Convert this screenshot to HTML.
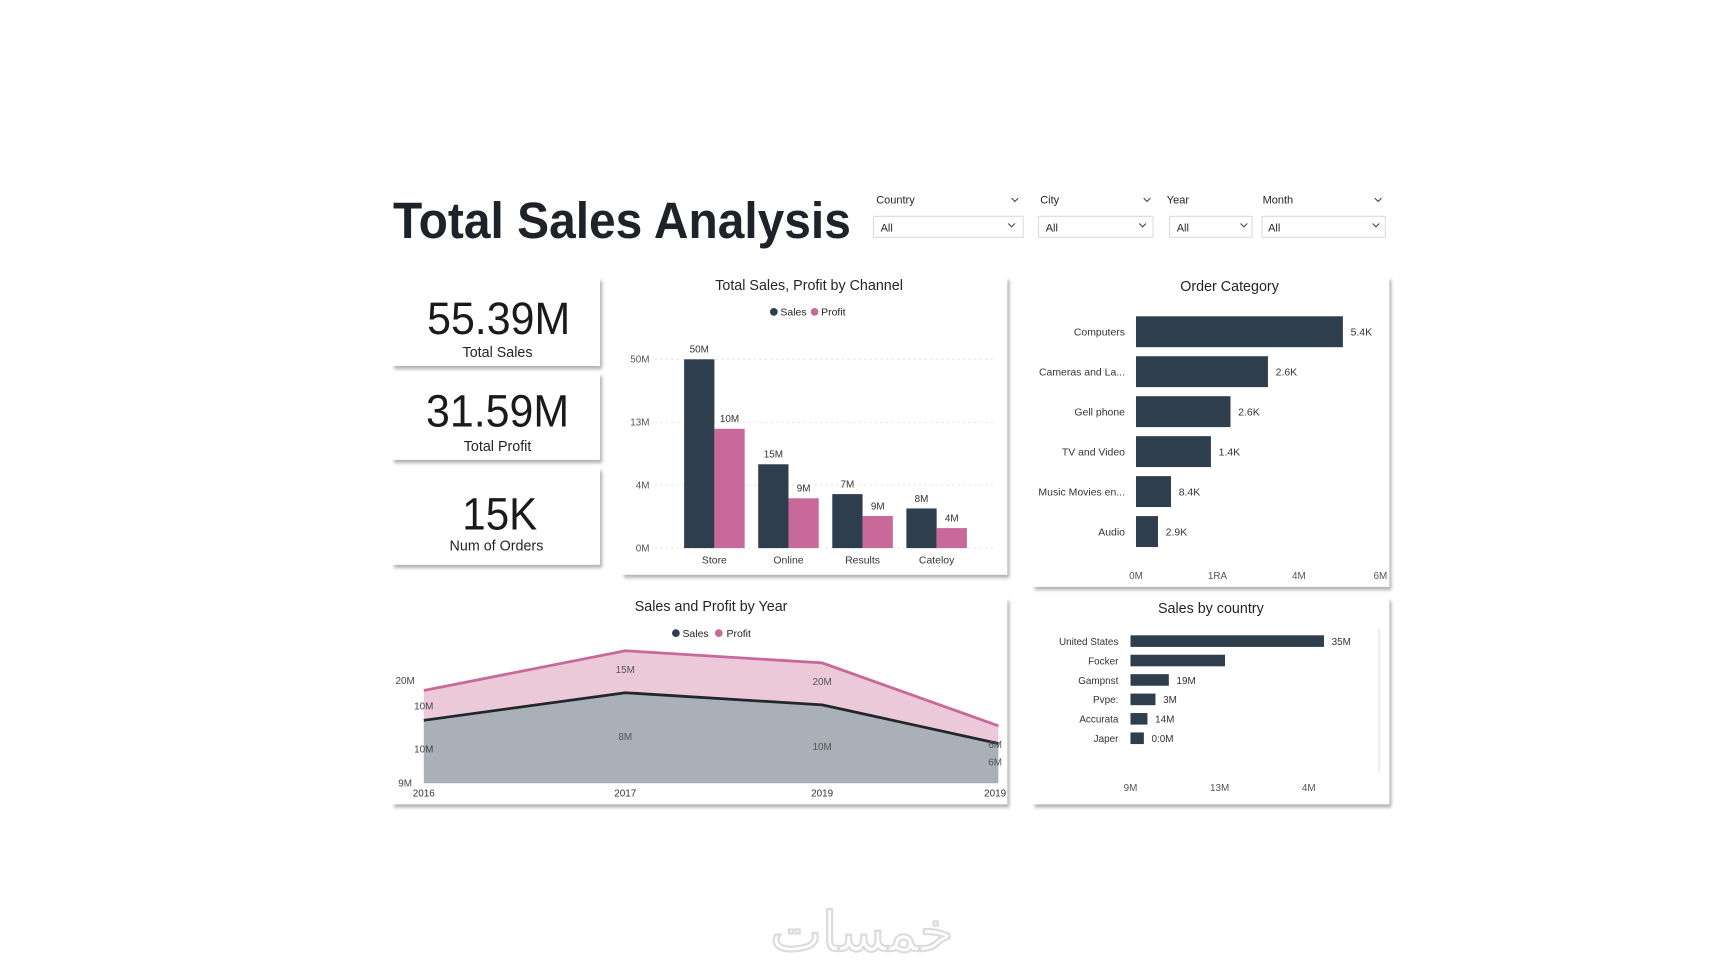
<!DOCTYPE html>
<html><head><meta charset="utf-8">
<style>
html,body{margin:0;padding:0;background:#fff;width:1726px;height:972px;overflow:hidden}
svg{display:block;font-family:"Liberation Sans","DejaVu Sans",sans-serif}
</style></head>
<body>
<svg id="root" width="1726" height="972" viewBox="0 0.5 1568 880.5" preserveAspectRatio="none">
<defs>
<filter id="sh" x="-5%" y="-5%" width="115%" height="120%">
<feDropShadow dx="2" dy="3" stdDeviation="1.5" flood-color="#000" flood-opacity="0.3"/>
</filter>
</defs>
<text x="357" y="216" font-size="46" font-weight="bold" fill="#1f2329" textLength="416" lengthAdjust="spacingAndGlyphs">Total Sales Analysis</text>

<g>
<text x="796" y="185" font-size="10" fill="#252423">Country</text>
<path d="M919 180l3 3 3-3" stroke="#444" fill="none"/>
<rect x="793.5" y="196.5" width="136" height="19" fill="#fff" stroke="#ddd"/>
<text x="800" y="210" font-size="10" fill="#252423">All</text>
<path d="M916 203l3 3 3-3" stroke="#444" fill="none"/>
</g>
<g>
<text x="945" y="185" font-size="10" fill="#252423">City</text>
<path d="M1039 180l3 3 3-3" stroke="#444" fill="none"/>
<rect x="943.5" y="196.5" width="104" height="19" fill="#fff" stroke="#ddd"/>
<text x="950" y="210" font-size="10" fill="#252423">All</text>
<path d="M1035 203l3 3 3-3" stroke="#444" fill="none"/>
</g>
<g>
<text x="1060" y="185" font-size="10" fill="#252423">Year</text>
<rect x="1062.5" y="196.5" width="75" height="19" fill="#fff" stroke="#ddd"/>
<text x="1069" y="210" font-size="10" fill="#252423">All</text>
<path d="M1127 203l3 3 3-3" stroke="#444" fill="none"/>
</g>
<g>
<text x="1147" y="185" font-size="10" fill="#252423">Month</text>
<path d="M1249 180l3 3 3-3" stroke="#444" fill="none"/>
<rect x="1146.5" y="196.5" width="112" height="19" fill="#fff" stroke="#ddd"/>
<text x="1152" y="210" font-size="10" fill="#252423">All</text>
<path d="M1247 203l3 3 3-3" stroke="#444" fill="none"/>
</g>

<rect x="356" y="252" width="189" height="80" fill="#fff" filter="url(#sh)"/>
<rect x="356" y="338" width="189" height="79" fill="#fff" filter="url(#sh)"/>
<rect x="356" y="424" width="189" height="88" fill="#fff" filter="url(#sh)"/>
<rect x="565" y="251" width="350" height="270" fill="#fff" filter="url(#sh)"/>
<rect x="938" y="251" width="324" height="281" fill="#fff" filter="url(#sh)"/>
<rect x="356" y="542" width="559" height="187" fill="#fff" filter="url(#sh)"/>
<rect x="938" y="542" width="324" height="187" fill="#fff" filter="url(#sh)"/>

<text x="453" y="303" font-size="41" fill="#1a1a1a" text-anchor="middle" textLength="130" lengthAdjust="spacingAndGlyphs">55.39M</text>
<text x="452" y="324" font-size="13" fill="#252423" text-anchor="middle">Total Sales</text>
<text x="452" y="387" font-size="41" fill="#1a1a1a" text-anchor="middle" textLength="130" lengthAdjust="spacingAndGlyphs">31.59M</text>
<text x="452" y="409" font-size="13" fill="#252423" text-anchor="middle">Total Profit</text>
<text x="454" y="480" font-size="41" fill="#1a1a1a" text-anchor="middle" textLength="68" lengthAdjust="spacingAndGlyphs">15K</text>
<text x="451" y="499" font-size="13" fill="#252423" text-anchor="middle">Num of Orders</text>

<text x="735" y="263" font-size="13" fill="#252423" text-anchor="middle">Total Sales, Profit by Channel</text>
<g font-size="9.5" fill="#252423">
<circle cx="703" cy="283" r="3.5" fill="#2f3e4c"/><text x="709" y="286.5">Sales</text>
<circle cx="740" cy="283" r="3.5" fill="#c8699a"/><text x="746" y="286.5">Profit</text>
</g>
<text x="1117" y="264" font-size="13" fill="#252423" text-anchor="middle">Order Category</text>
<text x="646" y="554" font-size="13" fill="#252423" text-anchor="middle">Sales and Profit by Year</text>
<g font-size="9.5" fill="#252423">
<circle cx="614" cy="574" r="3.5" fill="#2f3e4c"/><text x="620" y="577.5">Sales</text>
<circle cx="653" cy="574" r="3.5" fill="#c8699a"/><text x="660" y="577.5">Profit</text>
</g>
<text x="1100" y="556" font-size="13" fill="#252423" text-anchor="middle">Sales by country</text>
<line x1="1253" y1="570" x2="1253" y2="700" stroke="#eee" stroke-width="2"/>

<text x="783" y="862" font-size="50" fill="#fff" stroke="#dcdcdc" stroke-width="2" text-anchor="middle" font-family="'DejaVu Sans',sans-serif">خمسات</text>

<g id="g-channel"></g><g id="g-cat"></g><g id="g-year"></g><g id="g-country"></g>
</svg>
<script>
// ---- Channel chart data ----
const channelCats = ["Store","Online","Results","Cateloy"];
const channelSales = [50,22.2,14.3,10.5];
const channelProfit = [31.6,13.2,8.5,5.3];
const channelSalesLabels = ["50M","15M","7M","8M"];
const channelProfitLabels = ["10M","9M","9M","4M"];
const channelTicks = [0,16.7,33.3,50];
const channelTickLabels = ["0M","4M","13M","50M"];
// ---- Order category data ----
const catNames = ["Computers","Cameras and La...","Gell phone","TV and Video","Music Movies en...","Audio"];
const catValues = [5.08,3.24,2.32,1.84,0.86,0.54];
const catLabels = ["5.4K","2.6K","2.6K","1.4K","8.4K","2.9K"];
const catTicks = [0,2,4,6];
const catTickLabels = ["0M","1RA","4M","6M"];
// ---- Year chart data ----
const years = ["2016","2017","2019","2019"];
const yearSales = [14.25,20.5,17.75,9];
const yearProfit = [6.75,9.5,9.5,4];
const yearSalesLabels = ["","8M","10M","6M"];
const yearProfitLabels = ["","15M","20M","6M"];
const yearTicks = [0,7.75,17.5,23.25];
const yearTickLabels = ["9M","10M","10M","20M"];
// ---- Country chart data ----
const countries = ["United States","Focker","Gampnst","Pvpe:","Accurata","Japer"];
const countryValues = [21.7,10.6,4.3,2.8,1.9,1.5];
const countryLabels = ["35M","","19M","3M","14M","0:0M"];
const countryTicks = [0,10,20];
const countryTickLabels = ["9M","13M","4M"];

const NS="http://www.w3.org/2000/svg";
const DARK="#2f3e4c", PINK="#c8699a";
function mk(parent,tag,attrs,txt){const e=document.createElementNS(NS,tag);for(const k in attrs)e.setAttribute(k,attrs[k]);if(txt!==undefined)e.textContent=txt;parent.appendChild(e);return e;}

(function(){
const g=document.getElementById('g-channel');
const y=v=>497-v*3.42, x0=649, step=67.3, bw=27.5;
channelTicks.forEach((t,i)=>{
 const l=mk(g,'line',{x1:595,x2:905,y1:y(t),y2:y(t),stroke:'#e4e4e4','stroke-dasharray':'2,3'});
 
 
 const tx=mk(g,'text',{x:590,y:y(t)+3,'font-size':9,fill:'#555','text-anchor':'end'},channelTickLabels[i]);
 
 
});
channelCats.forEach((c,i)=>{
 const cx=x0+i*step;
 const b1=mk(g,'rect',{x:cx-bw,y:y(channelSales[i]),width:bw,height:497-y(channelSales[i]),fill:DARK});
 
 
 const b2=mk(g,'rect',{x:cx,y:y(channelProfit[i]),width:bw,height:497-y(channelProfit[i]),fill:PINK});
 
 
 const l1=mk(g,'text',{x:cx-bw/2,y:y(channelSales[i])-6,'font-size':9,fill:'#333','text-anchor':'middle'},channelSalesLabels[i]);
 
 
 const l2=mk(g,'text',{x:cx+bw/2,y:y(channelProfit[i])-6,'font-size':9,fill:'#333','text-anchor':'middle'},channelProfitLabels[i]);
 
 
 const cl=mk(g,'text',{x:cx,y:511,'font-size':9.5,fill:'#333','text-anchor':'middle'},c);
 
 
});
})();

(function(){
const g=document.getElementById('g-cat');
const x=v=>1032+v*37, y0=287, step=36.2, bh=28;
catNames.forEach((n,i)=>{
 const yy=y0+i*step;
 const b=mk(g,'rect',{x:x(0),y:yy,width:x(catValues[i])-x(0),height:bh,fill:DARK});
 
 
 const t=mk(g,'text',{x:1022,y:yy+bh/2+3.5,'font-size':9.5,fill:'#333','text-anchor':'end'},n);
 
 
 const v=mk(g,'text',{x:x(catValues[i])+7,y:yy+bh/2+3.5,'font-size':9.5,fill:'#333'},catLabels[i]);
 
 
});
catTicks.forEach((t,i)=>{
 const tx=mk(g,'text',{x:x(t),y:525,'font-size':9,fill:'#555','text-anchor':'middle'},catTickLabels[i]);
 
 
});
})();

(function(){
const g=document.getElementById('g-year');
const xs=i=>385+i*174, y=v=>710-v*4;
const xp=[0,1.052,2.08,3.0].map((f,i)=>xs(f));
const top=yearSales.map((s,i)=>s+yearProfit[i]);
let ps=xp.map((px,i)=>px+','+y(top[i])).join(' ')+' '+xp.slice().reverse().map((px,j)=>px+','+y(yearSales[3-j])).join(' ');
const a1=mk(g,'polygon',{points:ps,fill:'#ebc9d9'});


let ss=xp.map((px,i)=>px+','+y(yearSales[i])).join(' ')+' '+xp[3]+','+y(0)+' '+xp[0]+','+y(0);
const a2=mk(g,'polygon',{points:ss,fill:'#a9b0b7'});


const l1=mk(g,'polyline',{points:xp.map((px,i)=>px+','+y(top[i])).join(' '),fill:'none',stroke:PINK,'stroke-width':2.5});


const l2=mk(g,'polyline',{points:xp.map((px,i)=>px+','+y(yearSales[i])).join(' '),fill:'none',stroke:'#23272b','stroke-width':2.5});


yearTicks.forEach((t,i)=>{
 const tx=mk(g,'text',{x:i==0||i==3?368:385,y:y(t)+3,'font-size':9,fill:'#444','text-anchor':'middle'},yearTickLabels[i]);
 
 
});
years.forEach((yr,i)=>{
 const tx=mk(g,'text',{x:i==3?xp[i]-3:xp[i],y:722,'font-size':9,fill:'#333','text-anchor':'middle'},yr);
 
 
 if(yearProfitLabels[i]){
  const p=mk(g,'text',{x:i==3?xp[i]-3:xp[i],y:y(top[i])+20,'font-size':9,fill:'#555','text-anchor':'middle'},yearProfitLabels[i]);
  
  
 }
 if(yearSalesLabels[i]){
  const s=mk(g,'text',{x:i==3?xp[i]-3:xp[i],y:i==3?y(yearSales[i])+20:y(yearSales[i])+45-i*2,'font-size':9,fill:'#555','text-anchor':'middle'},yearSalesLabels[i]);
  
  
 }
});
})();

(function(){
const g=document.getElementById('g-country');
const x=v=>1027+v*8.1, y0=576, step=17.6, bh=10.5;
countries.forEach((n,i)=>{
 const yy=y0+i*step;
 const b=mk(g,'rect',{x:x(0),y:yy,width:x(countryValues[i])-x(0),height:bh,fill:DARK});
 
 
 const t=mk(g,'text',{x:1016,y:yy+bh/2+3.5,'font-size':9,fill:'#333','text-anchor':'end'},n);
 
 
 if(countryLabels[i]){
  const v=mk(g,'text',{x:x(countryValues[i])+7,y:yy+bh/2+3.5,'font-size':9,fill:'#333'},countryLabels[i]);
  
  
 }
});
countryTicks.forEach((t,i)=>{
 const tx=mk(g,'text',{x:x(t),y:717,'font-size':9,fill:'#555','text-anchor':'middle'},countryTickLabels[i]);
 
 
});
})();
</script>
</body></html>
